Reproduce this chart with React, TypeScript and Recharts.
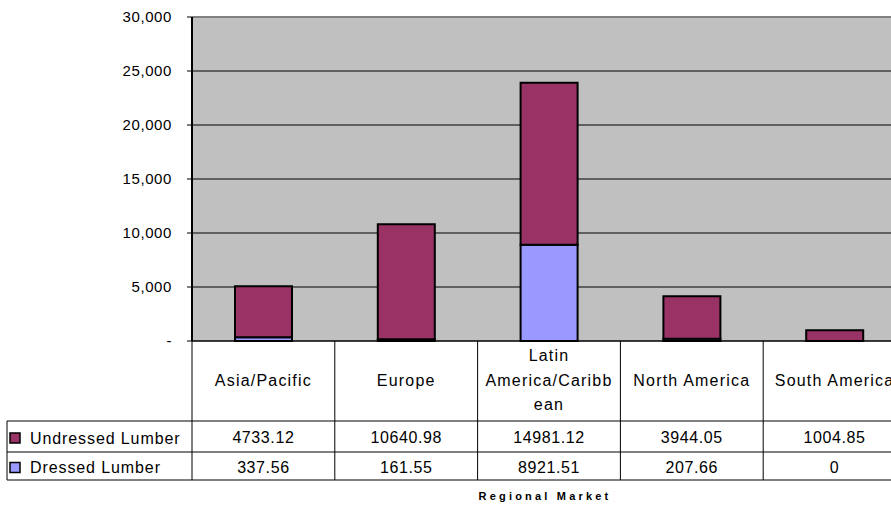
import React from 'react';
import { BarChart, Bar, XAxis, YAxis, CartesianGrid, ReferenceLine } from 'recharts';

// Regional market categories and the wrapped labels shown in the table header
const categories = ['Asia/Pacific', 'Europe', 'Latin America/Caribbean', 'North America', 'South America'];
const categoryLines = [['Asia/Pacific'], ['Europe'], ['Latin', 'America/Caribb', 'ean'], ['North America'], ['South America']];

// Series values
const undressedLumber = [4733.12, 10640.98, 14981.12, 3944.05, 1004.85];
const dressedLumber = [337.56, 161.55, 8921.51, 207.66, 0];
const undressedLabels = ['4733.12', '10640.98', '14981.12', '3944.05', '1004.85'];
const dressedLabels = ['337.56', '161.55', '8921.51', '207.66', '0'];

const yTicks = [0, 5000, 10000, 15000, 20000, 25000, 30000];

const UNDRESSED = '#993366';
const DRESSED = '#9999FF';
const FONT = '"Liberation Sans", Arial, sans-serif';

const WIDTH = 910;
const HEIGHT = 506;
const MARGIN = { top: 17, right: 4, bottom: 0, left: 0 };
const Y_AXIS_W = 192;
const X_AXIS_H = 165;
const COL_W = (WIDTH - MARGIN.left - MARGIN.right - Y_AXIS_W) / categories.length;

const data = categories.map((name, i) => ({
  name,
  dressed: dressedLumber[i],
  undressed: undressedLumber[i],
}));

const fmt = (v: number) => (v === 0 ? '-' : v.toLocaleString('en-US'));

// Draws one column of the data table under each category
const TableTick = (props: any) => {
  const { x, payload } = props;
  const i = payload.index;
  const top = HEIGHT - MARGIN.bottom - X_AXIS_H;
  const left = x - COL_W / 2;
  const rowTop = top + 80;
  const rowMid = top + 111;
  const rowBot = top + 139;
  const lines = categoryLines[i];
  const lh = 24.5;
  const startY = top + 39 - ((lines.length - 1) * lh) / 2;

  return (
    <g fontFamily={FONT}>
      <line x1={left} y1={top} x2={left} y2={rowBot} stroke="#000" strokeWidth={1} />
      {i === categories.length - 1 && (
        <line x1={left + COL_W} y1={top} x2={left + COL_W} y2={rowBot} stroke="#000" strokeWidth={1} />
      )}
      {lines.map((ln, k) => (
        <text key={k} x={x} y={startY + k * lh} textAnchor="middle" dominantBaseline="central"
          fontSize={16} letterSpacing={1.2} fill="#000">
          {ln}
        </text>
      ))}
      <text x={x} y={(rowTop + rowMid) / 2 + 1} textAnchor="middle" dominantBaseline="central" fontSize={16} letterSpacing={0.6} fill="#000">
        {undressedLabels[i]}
      </text>
      <text x={x} y={(rowMid + rowBot) / 2 + 1} textAnchor="middle" dominantBaseline="central" fontSize={16} letterSpacing={0.6} fill="#000">
        {dressedLabels[i]}
      </text>
      {i === 0 && (
        <g>
          <line x1={7} y1={rowTop} x2={WIDTH} y2={rowTop} stroke="#000" />
          <line x1={7} y1={rowMid} x2={WIDTH} y2={rowMid} stroke="#000" />
          <line x1={7} y1={rowBot} x2={WIDTH} y2={rowBot} stroke="#000" />
          <line x1={7} y1={rowTop} x2={7} y2={rowBot} stroke="#000" />
          <rect x={10} y={(rowTop + rowMid) / 2 - 3.5} width={10} height={10} fill={UNDRESSED} stroke="#000" strokeWidth={1.5} />
          <text x={30} y={(rowTop + rowMid) / 2 + 1.5} dominantBaseline="central" fontSize={16} letterSpacing={0.9} fill="#000">
            Undressed Lumber
          </text>
          <rect x={10} y={(rowMid + rowBot) / 2 - 3.5} width={10} height={10} fill={DRESSED} stroke="#000" strokeWidth={1.5} />
          <text x={30} y={(rowMid + rowBot) / 2 + 1.5} dominantBaseline="central" fontSize={16} letterSpacing={0.9} fill="#000">
            Dressed Lumber
          </text>
          <text x={Y_AXIS_W + (WIDTH - MARGIN.right - Y_AXIS_W) / 2 - 4} y={496} textAnchor="middle"
            dominantBaseline="central" fontSize={11} fontWeight="bold" letterSpacing={3.2} fill="#000">
            Regional Market
          </text>
        </g>
      )}
    </g>
  );
};

export default function App() {
  return (
    <div style={{ position: 'absolute', left: 0, top: 0, width: 891, height: 506, overflow: 'hidden', background: '#fff' }}>
      <BarChart width={WIDTH} height={HEIGHT} data={data} margin={MARGIN} barSize={57}>
        <CartesianGrid vertical={false} stroke="#000" fill="#C0C0C0" fillOpacity={1} />
        <ReferenceLine y={30000} stroke="#808080" strokeWidth={2} />
        <XAxis
          dataKey="name"
          height={X_AXIS_H}
          axisLine={{ stroke: '#000' }}
          tickLine={false}
          tickSize={0}
          tickMargin={0}
          interval={0}
          tick={<TableTick />}
        />
        <YAxis
          width={Y_AXIS_W}
          domain={[0, 30000]}
          ticks={yTicks}
          tickFormatter={fmt}
          axisLine={{ stroke: '#000', strokeWidth: 2 }}
          tickLine={{ stroke: '#000' }}
          tickSize={5}
          tickMargin={15}
          tick={{ fill: '#000', fontSize: 15, fontFamily: FONT, letterSpacing: 0.6 }}
        />
        <Bar dataKey="dressed" stackId="a" fill={DRESSED} stroke="#000" strokeWidth={2} isAnimationActive={false} />
        <Bar dataKey="undressed" stackId="a" fill={UNDRESSED} stroke="#000" strokeWidth={2} isAnimationActive={false} />
      </BarChart>
    </div>
  );
}
